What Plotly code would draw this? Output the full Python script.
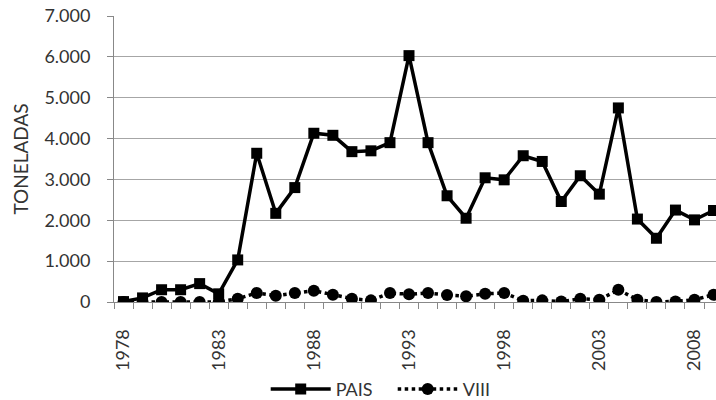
import plotly.graph_objects as go

years = list(range(1978, 2010))
pais = [10, 100, 300, 300, 450, 200, 1030, 3640, 2170, 2800, 4130, 4080, 3680, 3700, 3900, 6030,
        3900, 2600, 2050, 3040, 2990, 3580, 3440, 2460, 3090, 2640, 4750, 2030, 1560, 2250, 2010, 2240]
viii = [0, 0, 0, 0, 0, 0, 80, 220, 155, 220, 277, 180, 80, 40, 220, 190,
        220, 170, 140, 200, 220, 30, 40, 10, 80, 55, 300, 55, 0, 15, 55, 180]
label_years = [1978, 1983, 1988, 1993, 1998, 2003, 2008]
y_ticks = [0, 1000, 2000, 3000, 4000, 5000, 6000, 7000]

fig = go.Figure()
fig.add_trace(go.Scatter(x=years, y=pais, name="PAIS", mode="lines+markers",
                         line=dict(color="black", width=3.5),
                         marker=dict(symbol="square", size=11, color="black")))
fig.add_trace(go.Scatter(x=years, y=viii, name="VIII", mode="lines+markers",
                         line=dict(color="black", width=3.5, dash="dot"),
                         marker=dict(symbol="circle", size=12, color="black")))

font = "Lato, 'Open Sans', sans-serif"
fig.update_layout(
    width=716, height=400,
    margin=dict(l=114, r=0, t=16, b=98, autoexpand=False),
    paper_bgcolor="white", plot_bgcolor="white",
    separators=",.",
    font=dict(family=font, size=18, color="#333333"),
    showlegend=True,
    legend=dict(orientation="h", x=0.252, xanchor="left", y=-0.305, yanchor="middle",
                itemwidth=60, entrywidth=52, entrywidthmode="pixels",
                font=dict(size=18), traceorder="normal"),
    xaxis=dict(range=[1977.5, 2009.13], showgrid=False, zeroline=False, automargin=False,
               showline=True, linecolor="#888888", linewidth=1,
               tickmode="array", tickvals=label_years, ticktext=[str(v) for v in label_years],
               tickangle=-90, ticks="", ticklabelstandoff=19,
               minor=dict(tickmode="array", tickvals=[y - 0.5 for y in years] + [2009.5],
                          ticks="outside", ticklen=6, tickcolor="#888888", showgrid=False)),
    yaxis=dict(range=[0, 7000], tickmode="array", tickvals=y_ticks, tickformat=",d",
               showgrid=True, gridcolor="#A6A6A6", gridwidth=1, zeroline=False, automargin=False,
               showline=True, linecolor="#888888", linewidth=1,
               ticks="outside", ticklen=6, tickcolor="#888888", ticklabelstandoff=13,
               title=dict(text="TONELADAS", font=dict(size=19), standoff=10)),
)

fig.write_html("out.html", config={"displayModeBar": False},
               post_script="document.body.style.margin='0';document.body.style.overflow='hidden';")
